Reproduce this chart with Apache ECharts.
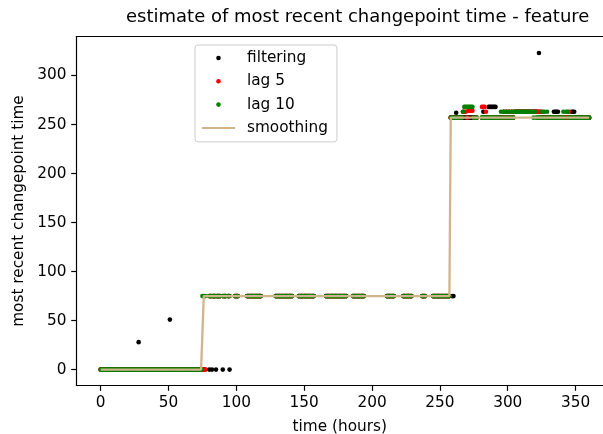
<!DOCTYPE html>
<html><head><meta charset="utf-8">
<script src="https://cdn.jsdelivr.net/npm/echarts@6/dist/echarts.min.js"></script>
<style>html,body{margin:0;padding:0;background:#fff}#c{width:603px;height:434px}</style>
</head><body><div id="c"></div>
<script>
// observation times (hours)
const times = [
 0,1,2,3,4,5,6,7,8,9,10,11,12,13,14,15,16,17,18,19,
 20,21,22,23,24,25,26,27,28,29,30,31,32,33,34,35,36,37,38,39,
 40,41,42,43,44,45,46,47,48,49,50,51,52,53,54,55,56,57,58,59,
 60,61,62,63,64,65,66,67,68,69,70,71,72,73,74,75,76,77,
 80,81,82,83,84,85,86,87,88,90,91,92,94,95,
 99,100,101,
 108,109,110,111,112,113,114,115,116,117,118,
 129,130,131,132,133,134,135,136,137,138,139,140,141,
 146,147,148,149,150,151,152,153,154,155,156,157,
 166,167,168,169,170,171,172,173,174,175,176,177,178,179,180,181,
 186,187,188,189,190,191,192,193,194,
 211,212,213,214,215,216,
 223,224,225,226,227,228,229,
 237,238,239,
 245,246,247,248,249,250,251,252,253,254,255,256,257,
 258,259,260,261,262,263,264,265,266,267,268,269,270,271,272,273,274,275,276,277,
 281,282,283,284,285,286,287,288,289,290,291,292,293,294,295,296,297,298,299,300,
 301,302,303,304,305,306,307,308,309,310,311,312,313,314,315,316,317,318,319,320,
 321,322,323,324,325,326,327,328,329,330,331,332,333,334,335,336,337,338,339,340,
 341,342,343,344,345,346,347,348,349,350,351,352,353,354,355,356,357,358,359,360
];
const filtering = [
 0,0,0,0,0,0,0,0,0,0,0,0,0,0,0,0,0,0,0,0,
 0,0,0,0,0,0,0,0,28,0,0,0,0,0,0,0,0,0,0,0,
 0,0,0,0,0,0,0,0,0,0,0,51,0,0,0,0,0,0,0,0,
 0,0,0,0,0,0,0,0,0,0,0,0,0,0,0,0,0,0,
 0,75,0,75,75,0,75,75,75,0,75,75,75,0,
 75,75,75,
 75,75,75,75,75,75,75,75,75,75,75,
 75,75,75,75,75,75,75,75,75,75,75,75,75,
 75,75,75,75,75,75,75,75,75,75,75,75,
 75,75,75,75,75,75,75,75,75,75,75,75,75,75,75,75,
 75,75,75,75,75,75,75,75,75,
 75,75,75,75,75,75,
 75,75,75,75,75,75,75,
 75,75,75,
 75,75,75,75,75,75,75,75,75,75,75,75,75,
 257,75,75,257,262,257,257,257,257,257,257,257,257,257,257,257,257,257,257,257,
 257,263,257,257,257,268,268,268,268,268,268,257,257,257,257,257,263,257,263,257,
 263,257,263,257,263,263,263,263,263,263,263,263,263,263,263,263,263,263,263,263,
 263,263,323,263,257,257,257,257,257,257,257,257,257,263,263,263,263,257,257,257,
 257,257,257,257,257,257,263,263,263,257,257,257,257,257,257,257,257,257,257,257
];
const lag5 = [
 0,0,0,0,0,0,0,0,0,0,0,0,0,0,0,0,0,0,0,0,
 0,0,0,0,0,0,0,0,0,0,0,0,0,0,0,0,0,0,0,0,
 0,0,0,0,0,0,0,0,0,0,0,0,0,0,0,0,0,0,0,0,
 0,0,0,0,0,0,0,0,0,0,0,0,0,0,0,0,0,0,
 75,75,75,75,75,75,75,75,75,75,75,75,75,75,
 75,75,75,
 75,75,75,75,75,75,75,75,75,75,75,
 75,75,75,75,75,75,75,75,75,75,75,75,75,
 75,75,75,75,75,75,75,75,75,75,75,75,
 75,75,75,75,75,75,75,75,75,75,75,75,75,75,75,75,
 75,75,75,75,75,75,75,75,75,
 75,75,75,75,75,75,
 75,75,75,75,75,75,75,
 75,75,75,
 75,75,75,75,75,75,75,75,75,75,75,75,75,
 257,257,257,257,257,257,257,257,257,263,263,263,257,264,264,264,264,257,257,257,
 268,268,268,263,257,257,257,257,257,257,257,257,257,257,257,257,257,257,263,257,
 263,257,263,257,263,263,263,263,263,263,263,263,263,263,263,263,263,263,263,263,
 263,263,263,263,257,263,257,257,257,257,257,257,257,257,257,257,257,257,257,257,
 257,257,257,257,263,257,257,257,257,257,257,257,257,257,257,257,257,257,257,257
];
const lag10 = [
 0,0,0,0,0,0,0,0,0,0,0,0,0,0,0,0,0,0,0,0,
 0,0,0,0,0,0,0,0,0,0,0,0,0,0,0,0,0,0,0,0,
 0,0,0,0,0,0,0,0,0,0,0,0,0,0,0,0,0,0,0,0,
 0,0,0,0,0,0,0,0,0,0,0,0,0,0,0,75,75,75,
 75,75,75,75,75,75,75,75,75,75,75,75,75,75,
 75,75,75,
 75,75,75,75,75,75,75,75,75,75,75,
 75,75,75,75,75,75,75,75,75,75,75,75,75,
 75,75,75,75,75,75,75,75,75,75,75,75,
 75,75,75,75,75,75,75,75,75,75,75,75,75,75,75,75,
 75,75,75,75,75,75,75,75,75,
 75,75,75,75,75,75,
 75,75,75,75,75,75,75,
 75,75,75,
 75,75,75,75,75,75,75,75,75,75,75,75,75,
 257,257,257,257,257,257,257,257,257,263,268,268,268,268,268,268,268,257,257,257,
 257,257,257,257,257,257,257,257,257,257,257,257,257,257,263,257,263,257,263,257,
 263,257,263,257,263,263,263,263,263,263,263,263,263,263,263,263,263,263,257,263,
 257,257,257,257,263,257,263,257,263,257,257,257,257,257,257,257,257,257,257,257,
 263,257,263,263,257,257,257,257,257,257,257,257,257,257,257,257,257,257,257,257
];
const smoothing = [
 0,0,0,0,0,0,0,0,0,0,0,0,0,0,0,0,0,0,0,0,
 0,0,0,0,0,0,0,0,0,0,0,0,0,0,0,0,0,0,0,0,
 0,0,0,0,0,0,0,0,0,0,0,0,0,0,0,0,0,0,0,0,
 0,0,0,0,0,0,0,0,0,0,0,0,0,0,0,0,75,75,
 75,75,75,75,75,75,75,75,75,75,75,75,75,75,
 75,75,75,
 75,75,75,75,75,75,75,75,75,75,75,
 75,75,75,75,75,75,75,75,75,75,75,75,75,
 75,75,75,75,75,75,75,75,75,75,75,75,
 75,75,75,75,75,75,75,75,75,75,75,75,75,75,75,75,
 75,75,75,75,75,75,75,75,75,
 75,75,75,75,75,75,
 75,75,75,75,75,75,75,
 75,75,75,
 75,75,75,75,75,75,75,75,75,75,75,75,75,
 257,257,257,257,257,257,257,257,257,257,257,257,257,257,257,257,257,257,257,257,
 257,257,257,257,257,257,257,257,257,257,257,257,257,257,257,257,257,257,257,257,
 257,257,257,257,257,257,257,257,257,257,257,257,257,257,257,257,257,257,257,257,
 257,257,257,257,257,257,257,257,257,257,257,257,257,257,257,257,257,257,257,257,
 257,257,257,257,257,257,257,257,257,257,257,257,257,257,257,257,257,257,257,257
];
const xTicks = [0,50,100,150,200,250,300,350];
const yTicks = [0,50,100,150,200,250,300];
const titleText = 'estimate of most recent changepoint time - feature';
const xLabel = 'time (hours)';
const yLabel = 'most recent changepoint time';

const FONT = 'DejaVu Sans';
const FS = 15.3;
const pts = vals => times.map((t, i) => [t, vals[i]]);
const chart = echarts.init(document.getElementById('c'), null, {renderer: 'canvas'});
const axisCommon = {
  axisLine: {show: true, onZero: false, lineStyle: {color: '#000', width: 1.2}},
  axisTick: {show: true, inside: false, length: 5.3, lineStyle: {color: '#000', width: 1.2}},
  splitLine: {show: false},
  axisLabel: {color: '#000', fontSize: FS, fontFamily: FONT, margin: 10},
  nameTextStyle: {color: '#000', fontSize: FS, fontFamily: FONT}
};
chart.setOption({
  animation: false,
  backgroundColor: '#fff',
  title: {text: titleText, left: 126, top: 8, padding: 0,
    textStyle: {color: '#000', fontSize: 18, fontWeight: 'normal', fontFamily: FONT}},
  grid: {left: 76.5, right: 0, top: 36.5, bottom: 48.5, containLabel: false, outerBoundsMode: 'none'},
  legend: {
    orient: 'vertical', left: 195, top: 45,
    padding: [4, 9, 5, 6], itemGap: 5.3, itemWidth: 33, itemHeight: 4.6,
    backgroundColor: '#fff', borderColor: '#cccccc', borderWidth: 1, borderRadius: 3,
    textStyle: {color: '#000', fontSize: FS, fontFamily: FONT, lineHeight: 18, padding: [0, 0, 0, 7]},
    data: [
      {name: 'filtering', icon: 'circle'},
      {name: 'lag 5', icon: 'circle'},
      {name: 'lag 10', icon: 'circle'},
      {name: 'smoothing', itemStyle: {opacity: 0}}
    ]
  },
  xAxis: [
    Object.assign({}, axisCommon, {
      type: 'value', min: -17.8, max: 370.2, position: 'bottom',
      axisTick: Object.assign({}, axisCommon.axisTick, {customValues: xTicks}),
      axisLabel: Object.assign({}, axisCommon.axisLabel, {customValues: xTicks}),
      name: xLabel, nameLocation: 'middle', nameGap: 34
    }),
    {type: 'value', min: -17.8, max: 370.2, position: 'top',
      axisLine: {show: true, onZero: false, lineStyle: {color: '#000', width: 1.2}},
      axisTick: {show: false}, axisLabel: {show: false}, splitLine: {show: false}}
  ],
  yAxis: Object.assign({}, axisCommon, {
    type: 'value', min: -16.2, max: 339.8,
    axisTick: Object.assign({}, axisCommon.axisTick, {customValues: yTicks}),
    axisLabel: Object.assign({}, axisCommon.axisLabel, {customValues: yTicks}),
    name: yLabel, nameLocation: 'middle', nameGap: 43, nameRotate: 90
  }),
  series: [
    {name: 'filtering', type: 'scatter', data: pts(filtering), symbolSize: 4.6,
      itemStyle: {color: '#000000', opacity: 1}, silent: true},
    {name: 'lag 5', type: 'scatter', data: pts(lag5), symbolSize: 4.6,
      itemStyle: {color: '#ff0000', opacity: 1}, silent: true},
    {name: 'lag 10', type: 'scatter', data: pts(lag10), symbolSize: 4.6,
      itemStyle: {color: '#008000', opacity: 1}, silent: true},
    {name: 'smoothing', type: 'line', data: pts(smoothing), symbol: 'none', showSymbol: false,
      lineStyle: {color: '#d2b48c', width: 2.3}, itemStyle: {color: '#d2b48c'}, silent: true}
  ]
});
</script></body></html>
